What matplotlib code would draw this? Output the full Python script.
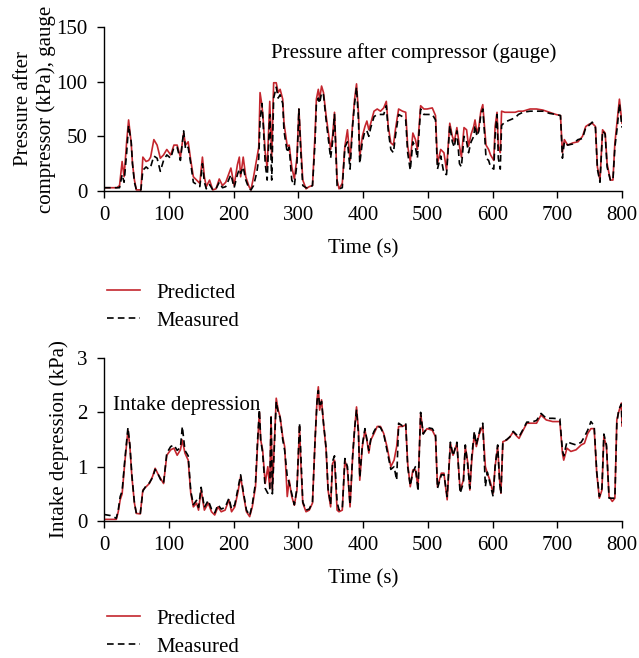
import matplotlib
matplotlib.use("Agg")
import matplotlib.pyplot as plt

# ---------------- Top panel data: pressure after compressor (kPa) ----------------
t_top = [0, 10, 20, 24, 28, 31, 35, 38, 42, 44, 47, 50, 57, 60, 65, 69, 72, 77, 82, 87,
         92, 97, 103, 108, 113, 118, 123, 126, 130, 134, 138, 143, 148, 152, 155, 158, 163, 168, 173, 178,
         183, 188, 196, 201, 206, 209, 211, 215, 219, 224, 227, 231, 236, 239, 241, 244, 246, 249, 252, 256,
         259, 262, 266, 269, 272, 276, 278, 283, 286, 290, 294, 298, 301, 304, 307, 312, 317, 322, 326, 328,
         331, 333, 336, 339, 343, 346, 350, 353, 356, 360, 363, 368, 372, 376, 380, 384, 387, 390, 393, 395,
         399, 403, 406, 409, 412, 417, 422, 427, 432, 436, 439, 443, 447, 450, 455, 461, 466, 469, 473, 477,
         481, 484, 489, 494, 499, 507, 512, 515, 520, 525, 529, 534, 538, 541, 545, 549, 552, 556, 560, 563,
         567, 571, 573, 576, 579, 582, 585, 588, 590, 594, 597, 602, 604, 607, 609, 612, 614, 619, 627, 635,
         640, 647, 658, 668, 678, 688, 698, 705, 708, 711, 716, 724, 732, 739, 744, 749, 754, 759, 762, 766,
         770, 774, 777, 782, 786, 789, 793, 796, 800]
p_pred = [3, 3, 3, 5, 27, 13, 45, 65, 44, 25, 10, 1, 1, 31, 27, 28, 31, 47, 42, 30,
          33, 38, 33, 42, 42, 31, 53, 42, 45, 28, 13, 10, 7, 31, 13, 4, 10, 1, 2, 11,
          5, 8, 21, 5, 24, 31, 13, 31, 13, 4, 1, 13, 30, 40, 90, 78, 64, 35, 21, 82,
          31, 99, 99, 90, 93, 84, 62, 41, 42, 22, 11, 31, 75, 41, 10, 2, 4, 5, 53, 84,
          93, 84, 96, 90, 69, 56, 38, 50, 72, 10, 2, 7, 41, 56, 28, 62, 84, 98, 72, 31,
          50, 59, 64, 56, 62, 73, 75, 73, 76, 82, 59, 44, 42, 56, 75, 73, 72, 41, 27, 53,
          47, 38, 78, 75, 75, 76, 69, 25, 38, 35, 19, 62, 50, 45, 58, 41, 31, 58, 56, 41,
          52, 59, 65, 53, 59, 73, 79, 56, 42, 38, 33, 28, 59, 72, 41, 35, 73, 72, 72, 72,
          73, 73, 75, 75, 74, 72, 70, 69, 35, 47, 42, 44, 45, 50, 59, 61, 62, 59, 22, 10,
          56, 53, 25, 10, 10, 44, 67, 84, 62]
p_meas = [3, 3, 3, 3, 15, 8, 35, 60, 45, 25, 8, 1, 1, 19, 22, 20, 22, 32, 30, 18,
          28, 33, 30, 40, 40, 28, 55, 38, 40, 25, 8, 6, 4, 25, 8, 2, 6, 1, 2, 8,
          3, 4, 15, 3, 15, 20, 16, 22, 10, 2, 1, 5, 17, 30, 65, 80, 60, 25, 10, 70,
          10, 85, 95, 85, 88, 80, 55, 35, 40, 10, 5, 25, 75, 35, 5, 3, 3, 5, 45, 80,
          85, 80, 90, 88, 65, 50, 30, 45, 70, 5, 2, 3, 40, 45, 20, 60, 80, 95, 65, 25,
          45, 55, 55, 50, 58, 68, 70, 70, 70, 78, 55, 38, 35, 50, 70, 68, 65, 35, 19, 45,
          40, 30, 75, 70, 70, 70, 65, 20, 32, 16, 15, 60, 45, 40, 55, 25, 22, 50, 45, 35,
          45, 50, 60, 50, 55, 70, 75, 50, 30, 28, 22, 20, 50, 70, 30, 20, 60, 63, 65, 67,
          70, 72, 73, 73, 73, 71, 70, 69, 30, 45, 42, 43, 47, 48, 58, 60, 63, 58, 20, 8,
          55, 52, 22, 10, 10, 40, 60, 80, 58]

# ---------------- Bottom panel data: intake depression (kPa) ----------------
t_bot = [0, 10, 19, 22, 25, 28, 32, 37, 40, 43, 47, 50, 56, 60, 65, 70, 75, 79, 84, 89,
         92, 97, 103, 108, 113, 118, 121, 125, 130, 134, 138, 143, 146, 150, 155, 161, 166, 171, 176, 181,
         187, 193, 197, 202, 207, 211, 215, 220, 225, 229, 234, 237, 240, 242, 245, 249, 253, 256, 258, 260,
         266, 269, 272, 276, 279, 283, 286, 290, 294, 298, 302, 304, 307, 312, 317, 322, 326, 329, 331, 333,
         336, 339, 343, 346, 350, 353, 356, 360, 363, 368, 372, 376, 380, 384, 387, 390, 393, 395, 399, 403,
         406, 409, 412, 417, 422, 427, 432, 437, 443, 448, 452, 455, 461, 466, 469, 473, 477, 481, 485, 489,
         493, 499, 507, 512, 515, 521, 525, 530, 535, 539, 545, 550, 555, 558, 562, 565, 568, 572, 575, 579,
         582, 585, 589, 592, 596, 601, 604, 608, 611, 613, 616, 622, 627, 632, 636, 641, 646, 653, 660, 668,
         675, 683, 693, 704, 708, 710, 715, 721, 729, 737, 742, 747, 752, 757, 761, 765, 769, 772, 776, 780,
         785, 789, 792, 795, 799, 800]
d_pred = [0.03, 0.03, 0.03, 0.17, 0.39, 0.5, 1.06, 1.67, 1.37, 0.82, 0.33, 0.14, 0.13, 0.57, 0.63, 0.69, 0.82, 0.97, 0.85, 0.75,
          0.69, 1.21, 1.31, 1.34, 1.21, 1.31, 1.49, 1.25, 1.12, 0.51, 0.26, 0.33, 0.2, 0.57, 0.2, 0.33, 0.17, 0.11, 0.26, 0.17,
          0.2, 0.39, 0.17, 0.26, 0.54, 0.82, 0.51, 0.17, 0.08, 0.26, 0.63, 1.37, 2.01, 1.49, 1.31, 0.69, 1.0, 0.6, 1.92, 0.57,
          2.26, 2.04, 1.92, 1.55, 1.37, 0.45, 0.75, 0.45, 0.29, 0.57, 1.74, 1.06, 0.33, 0.17, 0.2, 0.33, 1.49, 2.23, 2.47, 2.04,
          2.23, 1.8, 1.31, 0.57, 0.26, 1.06, 1.12, 0.2, 0.17, 0.2, 1.12, 0.94, 0.26, 1.18, 1.67, 2.1, 1.67, 0.75, 1.37, 1.67,
          1.49, 1.25, 1.49, 1.61, 1.74, 1.74, 1.61, 1.37, 1.0, 1.12, 1.37, 1.74, 1.74, 1.77, 1.06, 0.63, 0.94, 0.94, 0.63, 1.98,
          1.61, 1.7, 1.67, 1.55, 0.63, 0.88, 0.88, 0.39, 1.43, 1.21, 1.43, 0.57, 0.75, 1.37, 1.06, 0.57, 1.12, 1.61, 1.37, 1.58,
          1.67, 1.74, 1.0, 0.88, 0.75, 0.51, 1.0, 1.37, 0.75, 0.51, 1.46, 1.49, 1.55, 1.64, 1.58, 1.52, 1.64, 1.8, 1.8, 1.8,
          1.95, 1.86, 1.83, 1.83, 1.25, 1.12, 1.34, 1.28, 1.31, 1.4, 1.43, 1.61, 1.7, 1.7, 0.88, 0.42, 0.57, 1.55, 1.37, 0.45,
          0.36, 0.42, 1.86, 2.01, 2.17, 1.75]
d_meas = [0.12, 0.1, 0.05, 0.2, 0.45, 0.55, 1.1, 1.72, 1.4, 0.85, 0.33, 0.14, 0.13, 0.55, 0.65, 0.7, 0.8, 0.95, 0.85, 0.72,
          0.7, 1.25, 1.37, 1.4, 1.3, 1.35, 1.74, 1.3, 1.2, 0.55, 0.3, 0.38, 0.25, 0.62, 0.25, 0.38, 0.22, 0.15, 0.3, 0.22,
          0.25, 0.42, 0.22, 0.3, 0.6, 0.85, 0.55, 0.2, 0.1, 0.3, 0.7, 1.45, 2.05, 1.5, 1.25, 0.6, 0.51, 0.55, 1.95, 0.5,
          2.2, 2.0, 1.9, 1.5, 1.3, 0.82, 0.7, 0.5, 0.3, 0.6, 1.8, 1.2, 0.35, 0.2, 0.22, 0.35, 1.5, 2.2, 2.4, 2.1,
          2.2, 1.8, 1.35, 0.6, 0.3, 1.1, 1.2, 0.35, 0.2, 0.22, 1.15, 1.0, 0.3, 1.2, 1.7, 2.05, 1.6, 0.8, 1.4, 1.7,
          1.5, 1.3, 1.5, 1.65, 1.75, 1.72, 1.6, 1.3, 0.95, 1.0, 0.75, 1.8, 1.75, 1.8, 1.0, 0.65, 0.9, 1.0, 0.55, 2.0,
          1.6, 1.72, 1.7, 1.6, 0.6, 0.85, 0.85, 0.45, 1.45, 1.2, 1.45, 0.51, 0.7, 1.4, 1.0, 0.6, 1.2, 1.65, 1.4, 1.6,
          1.75, 1.8, 0.63, 0.9, 0.7, 0.45, 1.0, 1.4, 0.7, 0.5, 1.45, 1.5, 1.55, 1.65, 1.6, 1.55, 1.66, 1.82, 1.82, 1.85,
          1.98, 1.89, 1.89, 1.88, 1.3, 1.2, 1.46, 1.43, 1.4, 1.45, 1.55, 1.67, 1.83, 1.75, 0.9, 0.45, 0.6, 1.6, 1.4, 0.42,
          0.42, 0.42, 1.8, 2.05, 2.15, 1.8]

x_ticks = [0, 100, 200, 300, 400, 500, 600, 700, 800]
top_yticks = [0, 50, 100, 150]
bot_yticks = [0, 1, 2, 3]

RED = "#c4262e"
FS = 15
plt.rcParams["font.family"] = "Liberation Serif"
plt.rcParams["font.size"] = FS

fig = plt.figure(figsize=(6.39, 6.58), dpi=100)
W, H = 639, 658

def add_axes(x0, x1, y_top, y_bot):
    return fig.add_axes([x0 / W, 1 - y_bot / H, (x1 - x0) / W, (y_bot - y_top) / H])

ax1 = add_axes(104, 622, 27, 191)
ax2 = add_axes(104, 622, 358, 521)

for ax in (ax1, ax2):
    for s in ("top", "right"):
        ax.spines[s].set_visible(False)
    ax.spines["left"].set_linewidth(1.0)
    ax.spines["bottom"].set_linewidth(1.0)
    ax.tick_params(direction="out", length=5, width=1.0, labelsize=FS)
    ax.tick_params(axis="x", pad=6)
    ax.tick_params(axis="y", pad=7)
    ax.set_xlim(0, 800)
    ax.set_xticks(x_ticks)
    ax.set_xlabel("Time (s)", fontsize=FS, labelpad=10)

ax1.plot(t_top, p_pred, color=RED, lw=1.2, label="Predicted")
ax1.plot(t_top, p_meas, color="black", lw=1.2, ls=(0, (4, 2.5)), label="Measured")
ax1.set_ylim(0, 150)
ax1.set_yticks(top_yticks)
ax1.set_ylabel("Pressure after\ncompressor (kPa), gauge", fontsize=FS, linespacing=1.2)
ax1.yaxis.set_label_coords((56 - 104) / 518, 0.5)
ax1.text(0.597, 0.84, "Pressure after compressor (gauge)", transform=ax1.transAxes,
         ha="center", va="center", fontsize=FS)

ax2.plot(t_bot, d_pred, color=RED, lw=1.2, label="Predicted")
ax2.plot(t_bot, d_meas, color="black", lw=1.2, ls=(0, (4, 2.5)), label="Measured")
ax2.set_ylim(0, 3)
ax2.set_yticks(bot_yticks)
ax2.set_ylabel("Intake depression (kPa)", fontsize=FS)
ax2.yaxis.set_label_coords((69 - 104) / 518, 0.5)
ax2.text(0.017, 0.71, "Intake depression", transform=ax2.transAxes,
         ha="left", va="center", fontsize=FS)

for ax, ytop in ((ax1, 283), (ax2, 609)):
    h, lab = ax.get_legend_handles_labels()
    fig.legend(h, lab, loc="upper left", bbox_to_anchor=(107 / W, 1 - ytop / H),
               frameon=False, fontsize=FS, handlelength=1.6, handletextpad=0.75,
               labelspacing=0.4, borderaxespad=0, borderpad=0)

fig.savefig("out.png", dpi=100)
